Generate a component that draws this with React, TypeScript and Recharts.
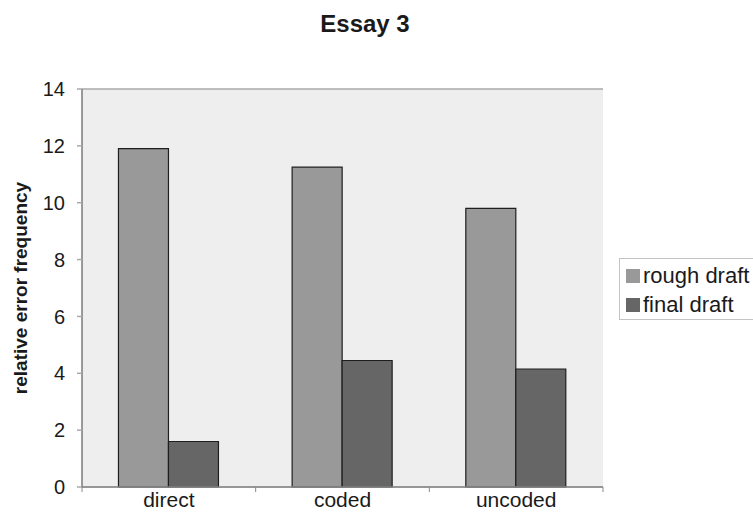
import React from "react";
import {
  BarChart,
  Bar,
  XAxis,
  YAxis,
  CartesianGrid,
  Legend,
} from "recharts";

// Feedback types and the relative error frequency in each draft
const categories = ["direct", "coded", "uncoded"];
const roughDraft = [11.9, 11.25, 9.8];
const finalDraft = [1.6, 4.45, 4.15];
const yTicks = [0, 2, 4, 6, 8, 10, 12, 14];
const seriesOrder = ["rough draft", "final draft"];

const data = categories.map((name, i) => ({
  name,
  rough: roughDraft[i],
  final: finalDraft[i],
}));

const W = 753;
const H = 512;
const MARGIN = { top: 89, right: 150, bottom: 0, left: 0 };
const Y_AXIS_W = 82;
const X_AXIS_H = 25;
const PLOT_W = W - MARGIN.left - MARGIN.right - Y_AXIS_W;
const BAND = PLOT_W / categories.length;
const FONT = "'Liberation Sans', Arial, sans-serif";

const XTick = (props: any) => {
  const { x, y, payload, index } = props;
  const axisY = y - 5;
  const left = x - BAND / 2;
  const right = x + BAND / 2;
  return (
    <g>
      <line x1={left} y1={axisY} x2={left} y2={axisY + 5} stroke="#8a8a8a" />
      {index === categories.length - 1 && (
        <line x1={right} y1={axisY} x2={right} y2={axisY + 5} stroke="#8a8a8a" />
      )}
      <text
        x={x}
        y={axisY + 20}
        textAnchor="middle"
        fontSize={21}
        fontFamily={FONT}
        fill="#1a1a1a"
      >
        {payload.value}
      </text>
    </g>
  );
};

const LegendBox = (props: any) => {
  const items = [...(props.payload || [])].sort(
    (a: any, b: any) => seriesOrder.indexOf(a.value) - seriesOrder.indexOf(b.value)
  );
  return (
    <div
      style={{
        width: 150,
        height: 62,
        border: "1px solid #c4c4c4",
        boxSizing: "border-box",
        paddingTop: 2,
        fontFamily: FONT,
        fontSize: 22,
        color: "#1a1a1a",
        textAlign: "left",
      }}
    >
      {items.map((item: any) => (
        <div
          key={item.value}
          style={{ display: "flex", alignItems: "center", height: 29 }}
        >
          <span
            style={{
              display: "inline-block",
              width: 14,
              height: 14,
              marginLeft: 6,
              marginRight: 3,
              background: item.color,
            }}
          />
          <span style={{ whiteSpace: "nowrap", lineHeight: "29px" }}>
            {item.value}
          </span>
        </div>
      ))}
    </div>
  );
};

const YLabel = (props: any) => {
  const { viewBox } = props;
  const cx = 20;
  const cy = viewBox.y + viewBox.height / 2;
  return (
    <text
      x={cx}
      y={cy}
      transform={`rotate(-90, ${cx}, ${cy})`}
      textAnchor="middle"
      dominantBaseline="central"
      fontSize={19}
      fontWeight="bold"
      fontFamily={FONT}
      fill="#1a1a1a"
    >
      relative error frequency
    </text>
  );
};

export default function App() {
  return (
    <div
      style={{
        position: "absolute",
        left: 0,
        top: 0,
        width: W,
        height: H,
        overflow: "hidden",
        background: "#ffffff",
      }}
    >
      <div
        style={{
          position: "absolute",
          left: 0,
          top: 12,
          width: 730,
          textAlign: "center",
          fontFamily: FONT,
          fontWeight: "bold",
          fontSize: 24,
          lineHeight: "24px",
          color: "#1a1a1a",
        }}
      >
        Essay 3
      </div>
      <BarChart
        width={W}
        height={H}
        data={data}
        margin={MARGIN}
        barGap={0}
        barCategoryGap="21%"
      >
        <CartesianGrid
          vertical={false}
          stroke="#a9a9a9"
          strokeWidth={1.5}
          fill="#eeeeee"
        />
        <XAxis
          dataKey="name"
          height={X_AXIS_H}
          axisLine={{ stroke: "#8a8a8a", strokeWidth: 1.5 }}
          tickLine={false}
          tickSize={5}
          tickMargin={0}
          tick={<XTick />}
          interval={0}
        />
        <YAxis
          yAxisId="left"
          width={Y_AXIS_W}
          domain={[0, 14]}
          ticks={yTicks}
          interval={0}
          axisLine={{ stroke: "#7a7a7a", strokeWidth: 1.5 }}
          tickLine={{ stroke: "#a9a9a9", strokeWidth: 1.5 }}
          tickSize={5}
          tickMargin={12}
          tick={{ fontSize: 20, fontFamily: FONT, fill: "#1a1a1a" }}
          label={<YLabel />}
        />
        <YAxis
          yAxisId="right"
          orientation="right"
          width={0}
          domain={[0, 14]}
          tick={false}
          tickLine={false}
          axisLine={{ stroke: "#b0b0b0", strokeWidth: 1.5 }}
        />
        <Legend
          layout="vertical"
          verticalAlign="middle"
          align="center"
          wrapperStyle={{ left: 619, top: 258, width: 150 }}
          content={<LegendBox />}
        />
        <Bar
          yAxisId="left"
          dataKey="rough"
          name="rough draft"
          fill="#999999"
          stroke="#1e1e1e"
          strokeWidth={1.2}
          isAnimationActive={false}
        />
        <Bar
          yAxisId="left"
          dataKey="final"
          name="final draft"
          fill="#666666"
          stroke="#1e1e1e"
          strokeWidth={1.2}
          isAnimationActive={false}
        />
      </BarChart>
    </div>
  );
}
